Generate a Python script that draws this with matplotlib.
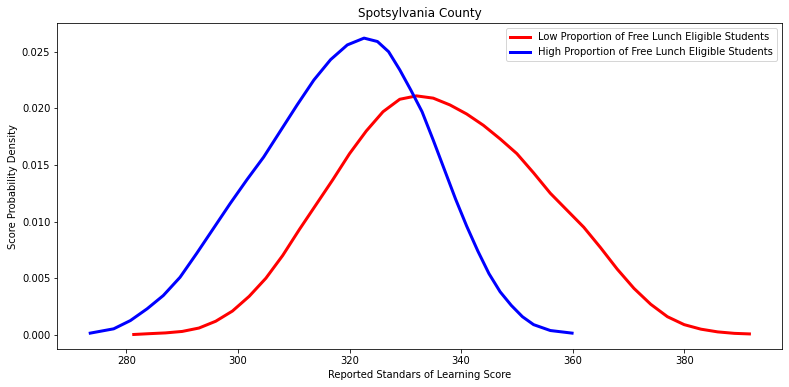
import matplotlib
matplotlib.use("Agg")
import matplotlib.pyplot as plt

# Density curves (score, density)
low_scores = [281.3, 284, 287, 290, 293, 296, 299, 302, 305, 308,
              311, 314, 317, 320, 323, 326, 329, 332, 335, 338,
              341, 344, 347, 350, 353, 356, 359, 362, 365, 368,
              371, 374, 377, 380, 383, 386, 389, 391.7]
low_density = [0.00003, 0.0001, 0.00017, 0.0003, 0.0006, 0.0012, 0.0021, 0.0034, 0.0050, 0.0070,
               0.0093, 0.0115, 0.0137, 0.0160, 0.0180, 0.0197, 0.0208, 0.0211, 0.0209, 0.0203,
               0.0195, 0.0185, 0.0173, 0.0160, 0.0143, 0.0125, 0.0110, 0.0095, 0.0077, 0.0058,
               0.0041, 0.0027, 0.0016, 0.0009, 0.0005, 0.00026, 0.00013, 0.00008]

high_scores = [273.5, 277.7, 280.7, 283.7, 286.6, 289.6, 292.6, 295.6, 298.6, 301.6,
               304.6, 307.6, 310.6, 313.6, 316.6, 319.6, 322.6, 325, 327, 329,
               331, 333, 335, 337, 339, 341, 343, 345, 347, 349,
               351, 353, 356, 359.9]
high_density = [0.00015, 0.00053, 0.00126, 0.0023, 0.00347, 0.00508, 0.0072, 0.0094, 0.0116, 0.0137,
                0.0157, 0.0180, 0.0203, 0.0225, 0.0243, 0.0256, 0.0262, 0.0259, 0.0250, 0.0234,
                0.0216, 0.0197, 0.0172, 0.0146, 0.0120, 0.0096, 0.0074, 0.0054, 0.0038, 0.0026,
                0.0016, 0.0009, 0.00038, 0.00015]

fig = plt.figure(figsize=(789 / 72, 387 / 72), dpi=72)
ax = fig.add_axes([0.0726, 0.0974, 0.919, 0.8424])

ax.plot(low_scores, low_density, color='red', linewidth=3, solid_joinstyle='round',
        label='Low Proportion of Free Lunch Eligible Students')
ax.plot(high_scores, high_density, color='blue', linewidth=3, solid_joinstyle='round',
        label='High Proportion of Free Lunch Eligible Students')

ax.set_title('Spotsylvania County')
ax.set_xlabel('Reported Standars of Learning Score')
ax.set_ylabel('Score Probability Density')
ax.legend(loc='upper right')

fig.savefig('out.png', dpi=72)
